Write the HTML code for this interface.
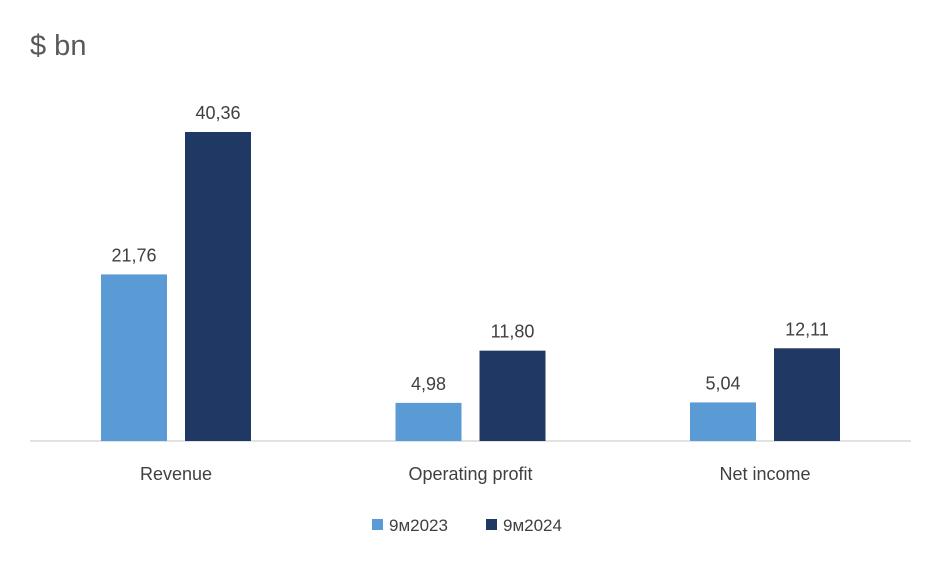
<!DOCTYPE html>
<html><head><meta charset="utf-8"><style>
html,body{margin:0;padding:0;background:#fff;}
svg text{font-family:"Liberation Sans",sans-serif;fill:#404040;}
</style></head><body>
<svg id="chart" width="941" height="563" viewBox="0 0 941 563" xmlns="http://www.w3.org/2000/svg">
<rect width="941" height="563" fill="#fff"/>
<text x="30" y="55" font-size="29" style="fill:#595959">$ bn</text>
<line x1="30" y1="441" x2="911" y2="441" stroke="#d9d9d9" stroke-width="1.5"/>
<g id="bars"></g>
<g id="legend">
<rect x="372" y="519" width="11" height="11" fill="#5b9bd5"/>
<text x="389" y="531" font-size="17">9м2023</text>
<rect x="486" y="519" width="11" height="11" fill="#203864"/>
<text x="503" y="531" font-size="17">9м2024</text>
</g>
</svg>
<script>
const categories = ["Revenue", "Operating profit", "Net income"];
const series2023 = [21.76, 4.98, 5.04];
const series2024 = [40.36, 11.80, 12.11];
const labels2023 = ["21,76", "4,98", "5,04"];
const labels2024 = ["40,36", "11,80", "12,11"];

const baseY = 441, pxPerUnit = 7.656;
const y = v => baseY - v * pxPerUnit;
const xCenter = i => 176 + i * 294.5;
const barW = 66, gap = 18;
const g = document.getElementById('bars');
const NS = "http://www.w3.org/2000/svg";
const series = [
  {vals: series2023, labels: labels2023, color: "#5b9bd5", key: "2023", off: -gap/2 - barW},
  {vals: series2024, labels: labels2024, color: "#203864", key: "2024", off: gap/2}
];
categories.forEach((c, i) => {
  series.forEach(s => {
    const v = s.vals[i];
    const x = xCenter(i) + s.off;
    const r = document.createElementNS(NS, 'rect');
    
    
    r.setAttribute('x', x); r.setAttribute('y', y(v));
    r.setAttribute('width', barW); r.setAttribute('height', baseY - y(v));
    r.setAttribute('fill', s.color);
    g.appendChild(r);
    const t = document.createElementNS(NS, 'text');
    
    
    t.setAttribute('x', x + barW/2); t.setAttribute('y', y(v) - 13);
    t.setAttribute('text-anchor', 'middle'); t.setAttribute('font-size', '18');
    t.textContent = s.labels[i];
    g.appendChild(t);
  });
  const ct = document.createElementNS(NS, 'text');
  
  
  ct.setAttribute('x', xCenter(i)); ct.setAttribute('y', 480);
  ct.setAttribute('text-anchor', 'middle'); ct.setAttribute('font-size', '18');
  ct.textContent = c;
  g.appendChild(ct);
});
</script>
</body></html>
